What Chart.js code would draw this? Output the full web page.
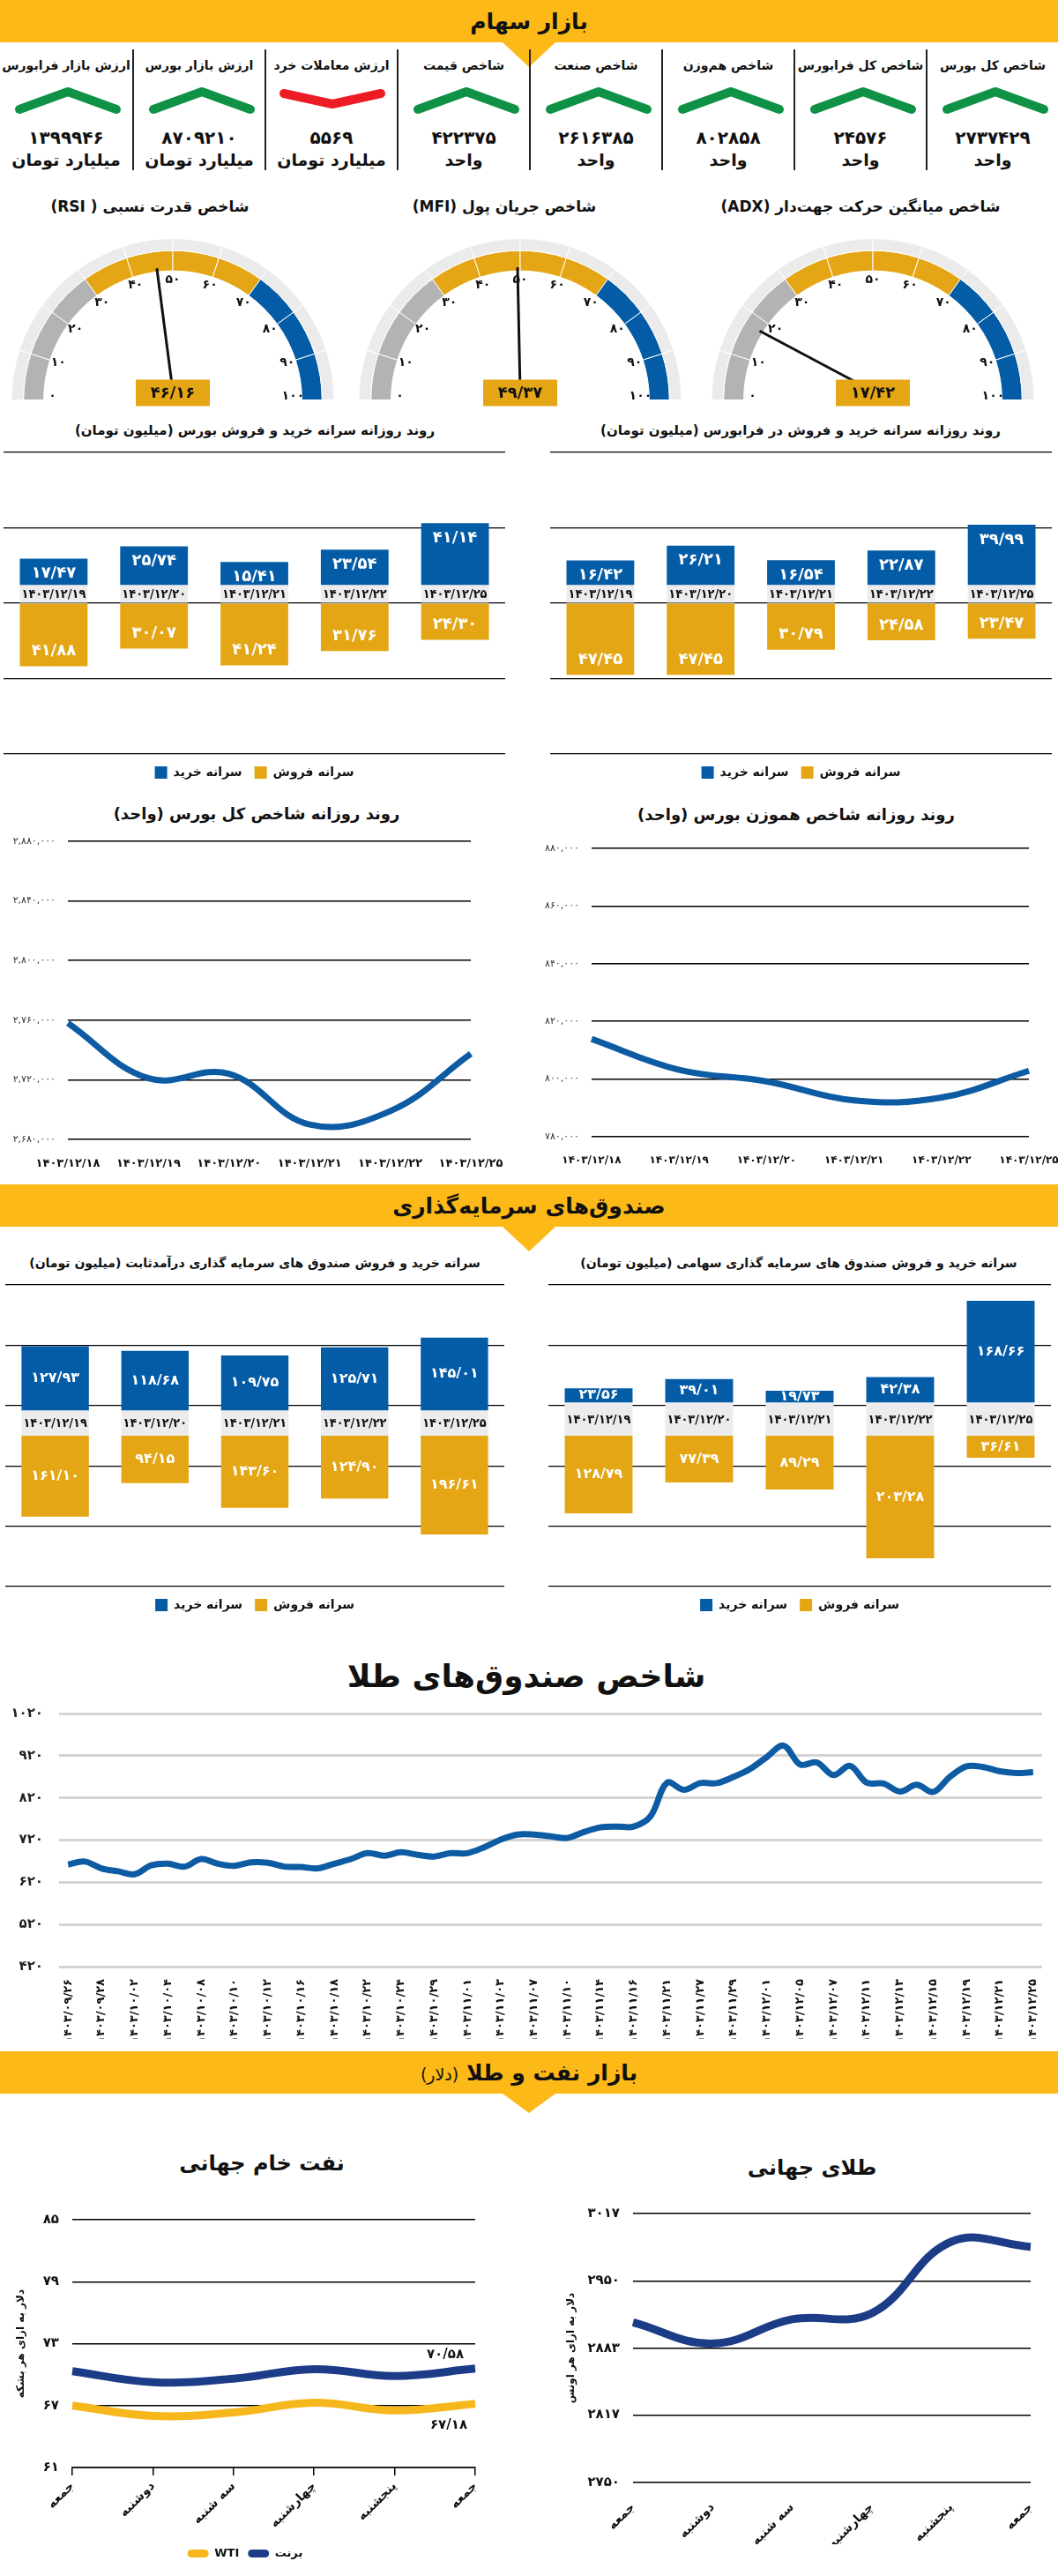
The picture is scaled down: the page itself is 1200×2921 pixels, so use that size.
<!DOCTYPE html>
<html lang="fa">
<head>
<meta charset="utf-8">
<title>بازار سهام، صندوق‌ها، نفت و طلا</title>
<script src="https://cdn.jsdelivr.net/npm/chart.js@4.4.1/dist/chart.umd.min.js"></script>
<style>
  html, body { margin: 0; padding: 0; background: #fff; }
  body { position: relative; width: 1200px; height: 2921px; overflow: hidden; font-family: "DejaVu Sans", sans-serif; color: #111; }
  .head { position: absolute; left: 0; width: 1200px; height: 48px; background: #fcb918; }
  .head .txt { position: absolute; left: 600px; top: 50%; transform: translate(-50%, -50%); direction: rtl; font-weight: bold; font-size: 25px; white-space: nowrap; }
  .head .tab { position: absolute; left: 570px; top: 48px; width: 0; height: 0; border-left: 30px solid transparent; border-right: 30px solid transparent; border-top: 28px solid #fcb918; }
  .ttl { position: absolute; transform: translate(-50%, -50%); direction: rtl; font-weight: bold; white-space: nowrap; }
  .chart { position: absolute; }
  .ind { position: absolute; top: 56px; width: 150px; height: 137px; direction: rtl; font-weight: bold; box-sizing: border-box; }
  .ind.sep { border-left: 2px solid #222; }
  .ind div { position: absolute; left: 0; width: 100%; text-align: center; white-space: nowrap; }
  .ind .name { top: 10px; font-size: 14px; }
  .ind svg { position: absolute; left: 0; top: 40px; }
  .ind .val { top: 88px; font-size: 20px; }
  .ind .unit { top: 114px; font-size: 19px; }
</style>
</head>
<body>

<div class="head" style="top:0"><span class="txt">بازار سهام</span><div class="tab"></div></div>
<div id="indicators"></div>

<div class="ttl" style="left:976px;top:234px;font-size:17px">شاخص میانگین حرکت جهت‌دار (ADX)</div>
<div class="ttl" style="left:572px;top:234px;font-size:17px">شاخص جریان پول (MFI)</div>
<div class="ttl" style="left:170px;top:234px;font-size:17px">شاخص قدرت نسبی ( RSI)</div>
<div class="chart" style="left:806px;top:270px;width:368px;height:196px"><canvas id="gaugeAdx"></canvas></div>
<div class="chart" style="left:406px;top:270px;width:368px;height:196px"><canvas id="gaugeMfi"></canvas></div>
<div class="chart" style="left:12px;top:270px;width:368px;height:196px"><canvas id="gaugeRsi"></canvas></div>

<div class="ttl" style="left:289px;top:488px;font-size:15px">روند روزانه سرانه خرید و فروش بورس (میلیون تومان)</div>
<div class="ttl" style="left:908px;top:488px;font-size:15px">روند روزانه سرانه خرید و فروش در فرابورس (میلیون تومان)</div>
<div class="chart" style="left:4px;top:503px;width:569px;height:390px"><canvas id="bourseFlow"></canvas></div>
<div class="chart" style="left:624px;top:503px;width:569px;height:390px"><canvas id="faraFlow"></canvas></div>

<div class="ttl" style="left:291px;top:922px;font-size:18px">روند روزانه شاخص کل بورس (واحد)</div>
<div class="ttl" style="left:903px;top:923px;font-size:18px">روند روزانه شاخص هموزن بورس (واحد)</div>
<div class="chart" style="left:0px;top:944px;width:574px;height:380px"><canvas id="totalIndex"></canvas></div>
<div class="chart" style="left:600px;top:952px;width:600px;height:369px"><canvas id="equalIndex"></canvas></div>

<div class="head" style="top:1343px"><span class="txt">صندوق‌های سرمایه‌گذاری</span><div class="tab"></div></div>
<div class="ttl" style="left:289px;top:1432px;font-size:14px">سرانه خرید و فروش صندوق های سرمایه گذاری درآمدثابت (میلیون تومان)</div>
<div class="ttl" style="left:906px;top:1432px;font-size:14px">سرانه خرید و فروش صندوق های سرمایه گذاری سهامی (میلیون تومان)</div>
<div class="chart" style="left:6px;top:1447px;width:566px;height:390px"><canvas id="fixedFlow"></canvas></div>
<div class="chart" style="left:622px;top:1447px;width:570px;height:390px"><canvas id="equityFlow"></canvas></div>

<div class="ttl" style="left:597px;top:1900px;font-size:36px">شاخص صندوق‌های طلا</div>
<div class="chart" style="left:0px;top:1933px;width:1200px;height:379px"><canvas id="goldFunds"></canvas></div>

<div class="head" style="top:2326px"><span class="txt">بازار نفت و طلا <span style="font-weight:normal;font-size:19px">(دلار)</span></span><div class="tab" style="border-top-width:22px"></div></div>
<div class="ttl" style="left:297px;top:2453px;font-size:24px">نفت خام جهانی</div>
<div class="ttl" style="left:921px;top:2458px;font-size:24px">طلای جهانی</div>
<div class="chart" style="left:0px;top:2507px;width:559px;height:405px"><canvas id="oilChart"></canvas></div>
<div class="chart" style="left:600px;top:2500px;width:600px;height:385px"><canvas id="goldChart"></canvas></div>

<script>
// ---- داده‌ها ----
const indicatorNames = ["شاخص کل بورس", "شاخص کل فرابورس", "شاخص هم‌وزن", "شاخص صنعت", "شاخص قیمت", "ارزش معاملات خرد", "ارزش بازار بورس", "ارزش بازار فرابورس"]
const indicatorValues = [2737429, 24576, 802858, 2616385, 422375, 5569, 8709210, 1399946]
const indicatorUnits = ["واحد", "واحد", "واحد", "واحد", "واحد", "میلیارد تومان", "میلیارد تومان", "میلیارد تومان"]
const indicatorUp = [true, true, true, true, true, false, true, true]

const gaugeTicks = [0, 10, 20, 30, 40, 50, 60, 70, 80, 90, 100]
const adxValue = 17.42
const mfiValue = 49.37
const rsiValue = 46.16

const tradeDates = ["1403/12/19", "1403/12/20", "1403/12/21", "1403/12/22", "1403/12/25"]
const bourseBuy = [17.47, 25.74, 15.41, 23.54, 41.14]
const bourseSell = [41.88, 30.07, 41.24, 31.76, 24.3]
const faraBuy = [16.42, 26.21, 16.54, 22.87, 39.99]
const faraSell = [47.45, 47.45, 30.79, 24.58, 23.47]

const indexDates = ["1403/12/18", "1403/12/19", "1403/12/20", "1403/12/21", "1403/12/22", "1403/12/25"]
const totalIndexValues = [2758000, 2721000, 2724000, 2690000, 2699000, 2737429]
const equalIndexValues = [813900, 803200, 799200, 792600, 793600, 802858]

const fixedBuy = [127.93, 118.68, 109.75, 125.71, 145.01]
const fixedSell = [161.1, 94.15, 143.6, 124.9, 196.61]
const equityBuy = [23.56, 39.01, 19.73, 42.38, 168.66]
const equitySell = [128.79, 77.39, 89.29, 203.28, 36.61]

const goldFundDates = ["1403/09/26", "1403/09/28", "1403/10/02", "1403/10/04", "1403/10/08", "1403/10/10", "1403/10/12", "1403/10/16", "1403/10/18", "1403/10/22", "1403/10/24", "1403/10/29", "1403/11/01", "1403/11/03", "1403/11/07", "1403/11/10", "1403/11/14", "1403/11/16", "1403/11/21", "1403/11/27", "1403/11/29", "1403/12/01", "1403/12/05", "1403/12/07", "1403/12/11", "1403/12/13", "1403/12/15", "1403/12/19", "1403/12/21", "1403/12/25"]
// دو مقدار برای هر برچسب تاریخ
const goldFundIndex = [662, 669, 653, 646, 639, 660, 664, 657, 675, 664, 659, 667, 666, 657, 656, 653, 664, 675, 689, 683, 691, 685, 681, 689, 689, 703, 721, 733, 733, 729, 725, 739, 750, 752, 752, 776, 856, 839, 855, 855, 870, 889, 917, 944, 899, 904, 874, 896, 856, 854, 835, 851, 834, 870, 895, 893, 883, 879, 881]

const weekDays = ["جمعه", "دوشنبه", "سه شنبه", "چهارشنبه", "پنجشنبه", "جمعه"]
const brentPrices = [70.33, 69.27, 69.6, 70.53, 69.87, 70.58]
const wtiPrices = [67.0, 66.0, 66.33, 67.27, 66.53, 67.18]
const oilTicks = [61, 67, 73, 79, 85]
const worldGold = [2909, 2888, 2912, 2918, 2989, 2984]
const goldTicks = [2750, 2817, 2883, 2950, 3017]

// ---- رنگ‌ها ----
const GOLD = "#e4a614"
const BLUE = "#045ca6"
const BAND_GREY = "#ececec"
const LINE_BLUE = "#0c5ba3"
const NAVY = "#1c3c88"
const WTI_YELLOW = "#f6b71c"
const GREEN = "#0f9146"
const RED = "#ed1c24"

const FA_DIGITS = "۰۱۲۳۴۵۶۷۸۹"
const fa = (v) => String(v).replace(/[0-9]/g, (d) => FA_DIGITS[d])
const faDec = (v) => fa(v.toFixed(2).replace(".", "/"))
const faGroup = (v) => fa(Math.round(v).toLocaleString("en-US"))

Chart.defaults.font.family = "'DejaVu Sans', sans-serif"
Chart.defaults.color = "#111"
Chart.defaults.animation = false
Chart.defaults.responsive = true
Chart.defaults.maintainAspectRatio = false
Chart.defaults.plugins.tooltip.enabled = false

// ---- ردیف شاخص‌ها ----
const row = document.getElementById("indicators")
indicatorNames.forEach((name, i) => {
  const col = document.createElement("div")
  col.className = "ind" + (i < 7 ? " sep" : "")
  col.style.left = 1200 - 150 * (i + 1) + "px"
  const pts = indicatorUp[i] ? "22,28 77,8 132,28" : "20,10 75,22 130,10"
  const color = indicatorUp[i] ? GREEN : RED
  col.innerHTML =
    '<div class="name">' + name + "</div>" +
    '<svg width="150" height="40"><polyline points="' + pts + '" fill="none" stroke="' + color + '" stroke-width="10" stroke-linecap="round" stroke-linejoin="round"/></svg>' +
    '<div class="val">' + fa(indicatorValues[i]) + "</div>" +
    '<div class="unit">' + indicatorUnits[i] + "</div>"
  row.appendChild(col)
})

// ---- گیج‌ها ----
function gaugeDial(value) {
  return {
    id: "gaugeDial",
    afterDraw(chart) {
      const ctx = chart.ctx
      const arc = chart.getDatasetMeta(1).data[0]
      const cx = arc.x
      const cy = arc.y
      const r = arc.innerRadius
      ctx.save()
      ctx.fillStyle = "#111"
      ctx.font = "bold 14px 'DejaVu Sans'"
      ctx.textAlign = "center"
      ctx.textBaseline = "middle"
      gaugeTicks.forEach((t) => {
        const a = Math.PI + (t / 100) * Math.PI
        const lr = r - 10
        const y = Math.min(cy + Math.sin(a) * lr, cy - 4)
        ctx.fillText(fa(t), cx + Math.cos(a) * lr, y)
      })
      const a = Math.PI + (value / 100) * Math.PI
      ctx.strokeStyle = "#111"
      ctx.lineWidth = 3
      ctx.beginPath()
      ctx.moveTo(cx, cy - 10)
      ctx.lineTo(cx + Math.cos(a) * (r + 4), cy + Math.sin(a) * (r + 4))
      ctx.stroke()
      ctx.fillStyle = GOLD
      ctx.fillRect(cx - 42, cy - 23, 84, 30)
      ctx.fillStyle = "#111"
      ctx.font = "bold 18px 'DejaVu Sans'"
      ctx.fillText(faDec(value), cx, cy - 7)
      ctx.restore()
    },
  }
}

function makeGauge(id, value) {
  const steps = gaugeTicks.slice(1).map((t, i) => t - gaugeTicks[i])
  const zoneColors = gaugeTicks.slice(1).map((t) => (t <= 30 ? "#b3b3b3" : t <= 70 ? GOLD : BLUE))
  new Chart(document.getElementById(id), {
    type: "doughnut",
    data: {
      labels: gaugeTicks.slice(1).map(fa),
      datasets: [
        { data: steps, backgroundColor: "#ebebeb", borderColor: "#fff", borderWidth: 1, weight: 13 },
        { data: steps, backgroundColor: zoneColors, borderColor: "#fff", borderWidth: 1, weight: 22 },
      ],
    },
    options: {
      rotation: -90,
      circumference: 180,
      cutout: "80%",
      layout: { padding: { bottom: 12 } },
      plugins: { legend: { display: false } },
    },
    plugins: [gaugeDial(value)],
  })
}
makeGauge("gaugeAdx", adxValue)
makeGauge("gaugeMfi", mfiValue)
makeGauge("gaugeRsi", rsiValue)

// ---- نمودارهای سرانه خرید و فروش ----
function flowLabels(center, fontSize) {
  return {
    id: "flowLabels",
    afterDatasetsDraw(chart) {
      const ctx = chart.ctx
      const band = chart.getDatasetMeta(0).data
      const buy = chart.getDatasetMeta(1).data
      const sell = chart.getDatasetMeta(2).data
      ctx.save()
      ctx.textAlign = "center"
      ctx.textBaseline = "middle"
      band.forEach((bar, i) => {
        ctx.fillStyle = "#111"
        ctx.font = "bold 14px 'DejaVu Sans'"
        ctx.fillText(chart.data.labels[i], bar.x, (bar.y + bar.base) / 2 + 1, bar.width - 4)
        ctx.fillStyle = "#fff"
        ctx.font = "bold " + fontSize + "px 'DejaVu Sans'"
        const b = buy[i]
        const s = sell[i]
        ctx.fillText(faDec(chart.data.datasets[1].data[i]), b.x, center ? (b.y + b.base) / 2 : b.y + 17)
        ctx.fillText(faDec(-chart.data.datasets[2].data[i]), s.x, center ? (s.y + s.base) / 2 : s.y - 17)
      })
      ctx.restore()
    },
  }
}

function makeFlow(id, buy, sell, cfg) {
  new Chart(document.getElementById(id), {
    type: "bar",
    data: {
      labels: tradeDates.map(fa),
      datasets: [
        { label: "تاریخ", data: buy.map(() => cfg.band), backgroundColor: BAND_GREY },
        { label: "سرانه خرید", data: buy, backgroundColor: BLUE },
        { label: "سرانه فروش", data: sell.map((v) => -v), backgroundColor: GOLD },
      ],
    },
    options: {
      datasets: { bar: { categoryPercentage: 1, barPercentage: 0.675 } },
      layout: { padding: { top: 10 } },
      plugins: {
        legend: {
          position: "bottom",
          labels: {
            filter: (item) => item.datasetIndex !== 0,
            boxWidth: 14,
            boxHeight: 14,
            padding: 14,
            font: { size: 14, weight: "bold" },
          },
        },
      },
      scales: {
        x: { stacked: true, display: false },
        y: {
          stacked: true,
          min: cfg.min,
          max: cfg.max,
          ticks: { stepSize: cfg.step, display: false },
          grid: { color: "#000", lineWidth: 1.2, drawTicks: false },
          border: { display: false },
          afterFit: (s) => { s.width = 0 },
        },
      },
    },
    plugins: [flowLabels(cfg.center, cfg.font)],
  })
}
makeFlow("bourseFlow", bourseBuy, bourseSell, { band: 12, min: -100, max: 100, step: 50, center: false, font: 18 })
makeFlow("faraFlow", faraBuy, faraSell, { band: 12, min: -100, max: 100, step: 50, center: false, font: 18 })
makeFlow("fixedFlow", fixedBuy, fixedSell, { band: 50, min: -300, max: 300, step: 120, center: true, font: 16 })
makeFlow("equityFlow", equityBuy, equitySell, { band: 55, min: -250, max: 250, step: 100, center: true, font: 16 })

// ---- روند روزانه شاخص‌ها ----
function makeIndex(id, values, yMin, yMax, yStep, cfg) {
  new Chart(document.getElementById(id), {
    type: "line",
    data: {
      labels: indexDates.map(fa),
      datasets: [{ data: values, borderColor: LINE_BLUE, borderWidth: 7, tension: 0.4, pointRadius: 0 }],
    },
    options: {
      layout: { padding: { top: 10, right: cfg.right } },
      plugins: { legend: { display: false } },
      scales: {
        x: {
          offset: false,
          grid: { display: false },
          border: { display: false },
          ticks: { autoSkip: false, maxRotation: 0, padding: 12, font: { size: cfg.xFont, weight: "bold" } },
          afterFit: (s) => { s.height = 32; s.paddingLeft = 0; s.paddingRight = 0 },
        },
        y: {
          min: yMin,
          max: yMax,
          ticks: { stepSize: yStep, callback: (v) => faGroup(v), padding: 14, color: "#333", font: { size: 11 } },
          grid: { color: "#000", lineWidth: 1.5, drawTicks: false },
          border: { display: false },
          afterFit: (s) => { s.width = cfg.yWidth; s.paddingTop = 0; s.paddingBottom = 0 },
        },
      },
    },
  })
}
makeIndex("totalIndex", totalIndexValues, 2680000, 2880000, 40000, { right: 40, yWidth: 77, xFont: 13 })
makeIndex("equalIndex", equalIndexValues, 780000, 880000, 20000, { right: 33, yWidth: 71, xFont: 12 })

// ---- شاخص صندوق‌های طلا ----
new Chart(document.getElementById("goldFunds"), {
  type: "line",
  data: {
    datasets: [{
      data: goldFundIndex.map((y, i) => ({ x: i / 2, y })),
      borderColor: LINE_BLUE,
      borderWidth: 7,
      tension: 0.35,
      pointRadius: 0,
    }],
  },
  options: {
    layout: { padding: { top: 10, right: 18 } },
    plugins: { legend: { display: false } },
    scales: {
      x: {
        type: "linear",
        min: -0.27,
        max: 29.27,
        grid: { display: false },
        border: { display: false },
        ticks: {
          stepSize: 1,
          includeBounds: false,
          autoSkip: false,
          minRotation: 90,
          maxRotation: 90,
          padding: 6,
          font: { size: 13, weight: "bold" },
          callback: (v) => (Number.isInteger(v) && goldFundDates[v] ? fa(goldFundDates[v]) : ""),
        },
        afterFit: (s) => { s.height = 82; s.paddingLeft = 0; s.paddingRight = 0 },
      },
      y: {
        min: 420,
        max: 1020,
        ticks: { stepSize: 100, callback: (v) => fa(v), padding: 18, color: "#222", font: { size: 15, weight: "bold" } },
        grid: { color: "#d4d4d4", lineWidth: 3, drawTicks: false },
        border: { display: false },
        afterFit: (s) => { s.width = 67; s.paddingTop = 0; s.paddingBottom = 0 },
      },
    },
  },
})

// ---- نفت و طلای جهانی ----
function endLabels(items) {
  return {
    id: "endLabels",
    afterDatasetsDraw(chart) {
      const ctx = chart.ctx
      ctx.save()
      ctx.font = "bold 15px 'DejaVu Sans'"
      ctx.fillStyle = "#111"
      ctx.textAlign = "center"
      ctx.textBaseline = "middle"
      items.forEach((it) => {
        const pts = chart.getDatasetMeta(it.dataset).data
        const last = pts.length - 1
        const v = chart.data.datasets[it.dataset].data[last]
        ctx.fillText(it.decimals ? faDec(v) : fa(v), pts[last].x + it.dx, pts[last].y + it.dy)
      })
      ctx.restore()
    },
  }
}

const noStrokeLabels = (chart) =>
  Chart.defaults.plugins.legend.labels.generateLabels(chart).map((l) => ({ ...l, lineWidth: 0 }))

new Chart(document.getElementById("oilChart"), {
  type: "line",
  data: {
    labels: weekDays,
    datasets: [
      { label: "WTI", data: wtiPrices, borderColor: WTI_YELLOW, backgroundColor: WTI_YELLOW, borderWidth: 9, tension: 0.4, pointRadius: 0 },
      { label: "برنت", data: brentPrices, borderColor: NAVY, backgroundColor: NAVY, borderWidth: 9, tension: 0.4, pointRadius: 0 },
    ],
  },
  options: {
    layout: { padding: { top: 10, left: 17, right: 20 } },
    plugins: {
      legend: {
        position: "bottom",
        labels: {
          boxWidth: 24,
          boxHeight: 9,
          useBorderRadius: true,
          borderRadius: 4.5,
          padding: 10,
          font: { size: 13, weight: "bold" },
          generateLabels: noStrokeLabels,
        },
      },
    },
    scales: {
      x: {
        offset: false,
        grid: { display: true, drawOnChartArea: false, drawTicks: true, tickLength: 9, color: "#000", lineWidth: 1.5 },
        border: { display: true, color: "#000", width: 1.5 },
        ticks: { autoSkip: false, minRotation: 45, maxRotation: 45, padding: 4, font: { size: 14, weight: "bold" } },
        afterFit: (s) => { s.height = 81; s.paddingLeft = 0; s.paddingRight = 0 },
      },
      y: {
        min: oilTicks[0],
        max: oilTicks[oilTicks.length - 1],
        afterBuildTicks: (s) => { s.ticks = oilTicks.map((value) => ({ value })) },
        ticks: { callback: (v) => fa(v), padding: 15, font: { size: 15, weight: "bold" } },
        grid: { color: "#000", lineWidth: 1.5, drawTicks: false },
        border: { display: false },
        title: { display: true, text: "دلار به ازای هر بشکه", padding: 0, font: { size: 12, weight: "bold" } },
        afterFit: (s) => { s.width = 65; s.paddingTop = 0; s.paddingBottom = 0 },
      },
    },
  },
  plugins: [endLabels([{ dataset: 1, dx: -34, dy: -16, decimals: true }, { dataset: 0, dx: -30, dy: 24, decimals: true }])],
})

new Chart(document.getElementById("goldChart"), {
  type: "line",
  data: {
    labels: weekDays,
    datasets: [{ data: worldGold, borderColor: NAVY, borderWidth: 9, tension: 0.4, pointRadius: 0 }],
  },
  options: {
    layout: { padding: { top: 10, left: 41, right: 31 } },
    plugins: { legend: { display: false } },
    scales: {
      x: {
        offset: false,
        grid: { display: false },
        border: { display: false },
        ticks: { autoSkip: false, minRotation: 45, maxRotation: 45, padding: 12, font: { size: 14, weight: "bold" } },
        afterFit: (s) => { s.height = 70; s.paddingLeft = 0; s.paddingRight = 0 },
      },
      y: {
        min: goldTicks[0],
        max: goldTicks[goldTicks.length - 1],
        afterBuildTicks: (s) => { s.ticks = goldTicks.map((value) => ({ value })) },
        ticks: { callback: (v) => fa(v), padding: 15, font: { size: 15, weight: "bold" } },
        grid: { color: "#000", lineWidth: 1.5, drawTicks: false },
        border: { display: false },
        title: { display: true, text: "دلار به ازای هر اونس", padding: 0, font: { size: 12, weight: "bold" } },
        afterFit: (s) => { s.width = 77; s.paddingTop = 0; s.paddingBottom = 0 },
      },
    },
  },
  plugins: [endLabels([{ dataset: 0, dx: -29, dy: -53, decimals: false }])],
})
</script>
</body>
</html>
